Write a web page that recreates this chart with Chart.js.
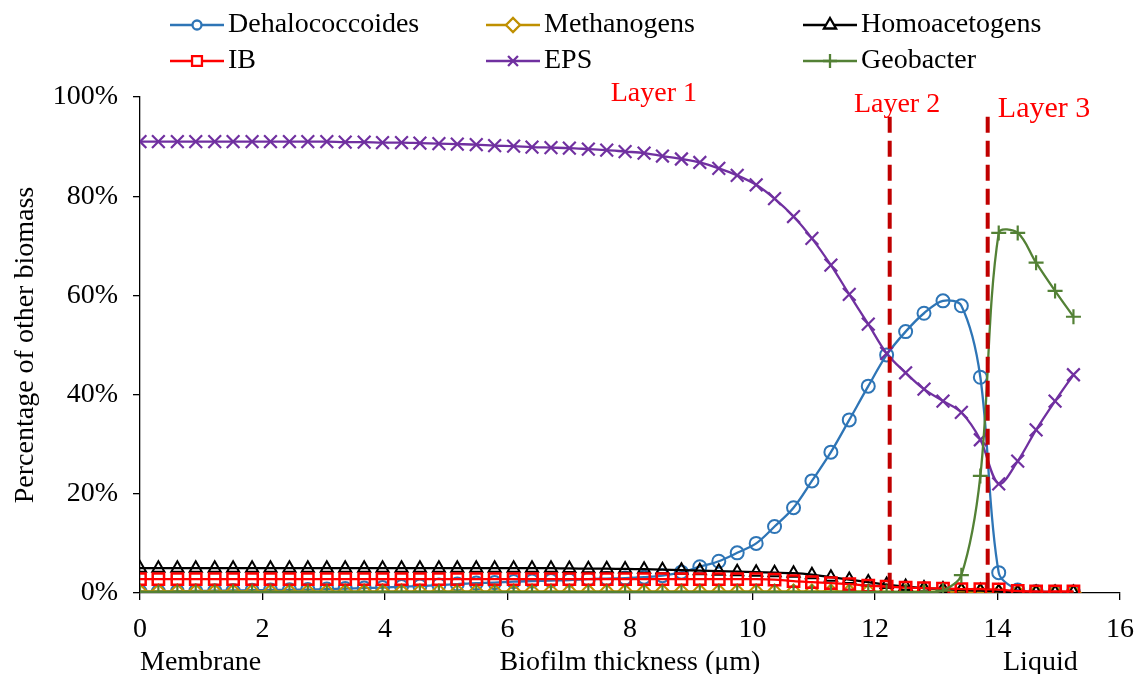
<!DOCTYPE html>
<html><head><meta charset="utf-8">
<script src="https://cdn.jsdelivr.net/npm/chart.js@4/dist/chart.umd.min.js"></script>
<style>html,body{margin:0;padding:0;background:#fff;} canvas{display:block;}</style>
</head><body>
<canvas id="c" width="1136" height="674"></canvas>
<script>
// ---------- data ----------
const thickness = [0,0.30,0.61,0.91,1.22,1.52,1.83,2.13,2.44,2.74,3.05,3.35,3.66,3.96,4.27,4.57,4.88,5.18,5.49,5.79,
  6.10,6.40,6.71,7.01,7.32,7.62,7.92,8.23,8.53,8.84,9.14,9.45,9.75,10.06,10.36,10.67,10.97,11.28,11.58,11.89,
  12.19,12.50,12.80,13.11,13.41,13.72,14.02,14.33,14.63,14.94,15.24];
const dehalococcoides = [0.3,0.3,0.35,0.4,0.45,0.5,0.55,0.6,0.65,0.7,0.8,0.9,1.0,1.1,1.3,1.4,1.6,1.8,2.0,2.1,
  2.3,2.4,2.5,2.6,2.8,2.9,3.0,3.2,3.5,4.2,5.3,6.4,8.1,10.0,13.4,17.2,22.6,28.4,34.9,41.7,
  48.0,52.7,56.4,58.9,57.9,43.5,4.1,0.6,0.3,0.2,0.2];
const methanogens = [0.3,0.3,0.3,0.3,0.3,0.3,0.3,0.3,0.3,0.3,0.3,0.3,0.3,0.3,0.3,0.3,0.3,0.3,0.3,0.3,
  0.3,0.3,0.3,0.3,0.3,0.3,0.3,0.3,0.3,0.3,0.3,0.3,0.3,0.3,0.3,0.3,0.3,0.3,0.3,0.3,
  0.25,0.25,0.25,0.25,0.25,0.1,0.1,0.1,0.1,0.1,0.1];
const homoacetogens = [5.0,5.0,5.0,5.0,5.0,5.0,5.0,5.0,5.0,5.0,5.0,5.0,5.0,5.0,5.0,5.0,5.0,5.0,5.0,5.0,
  5.0,5.0,5.0,4.95,4.9,4.9,4.85,4.8,4.7,4.6,4.5,4.4,4.3,4.2,4.1,4.0,3.7,3.2,2.7,2.2,
  1.7,1.3,1.0,0.8,0.6,0.5,0.3,0.1,0.1,0.1,0.1];
const ib = [2.8,2.8,2.8,2.8,2.8,2.8,2.8,2.8,2.8,2.8,2.8,2.8,2.8,2.8,2.8,2.8,2.8,2.8,2.8,2.8,
  2.8,2.8,2.8,2.8,2.8,2.8,2.8,2.8,2.8,2.8,2.8,2.8,2.8,2.8,2.7,2.4,2.2,2.0,1.8,1.5,
  1.3,1.1,1.0,0.9,0.8,0.8,0.7,0.4,0.3,0.3,0.3];
const eps = [91.0,91.0,91.0,91.0,91.0,91.0,91.0,91.0,91.0,91.0,91.0,90.9,90.9,90.8,90.8,90.7,90.6,90.5,90.4,90.2,
  90.1,89.9,89.8,89.7,89.5,89.3,89.0,88.7,88.1,87.5,86.8,85.6,84.2,82.3,79.5,75.9,71.5,66.1,60.2,54.2,
  48.3,44.4,41.1,38.7,36.4,30.9,22.0,26.6,32.9,38.7,44.0];
const geobacter = [0.2,0.2,0.2,0.2,0.2,0.2,0.2,0.2,0.2,0.2,0.2,0.2,0.2,0.2,0.2,0.2,0.2,0.2,0.2,0.2,
  0.2,0.2,0.2,0.2,0.2,0.2,0.2,0.2,0.2,0.2,0.2,0.2,0.2,0.2,0.2,0.2,0.2,0.2,0.2,0.2,
  0.2,0.2,0.2,0.5,3.6,23.6,72.6,72.6,66.6,60.9,55.7];
const seriesNames = ['Dehalococcoides','Methanogens','Homoacetogens','IB','EPS','Geobacter'];
const layerBoundaries = [12.24, 13.84];
const layerLineRange = [96, 0];
const layerNames = ['Layer 1','Layer 2','Layer 3'];
const layerLabelAt = [[8.39,100.7],[12.36,98.5],[14.76,97.6]];
const xTicks = [0,2,4,6,8,10,12,14,16];
const yTicks = [0,20,40,60,80,100];
const xTitle = 'Biofilm thickness (μm)';
const yTitle = 'Percentage of other biomass';
const xEndLabels = ['Membrane','Liquid'];

// ---------- styling ----------
const FONT = "'Liberation Serif', 'Times New Roman', serif";
Chart.defaults.font.family = FONT;
Chart.defaults.font.size = 28;
Chart.defaults.color = '#000';

const styles = [
  {color:'#2E75B6', style:'circle',   r:6.5, bw:2},
  {color:'#BF9000', style:'rectRot',  r:7,   bw:2},
  {color:'#000000', style:'triangle', r:7,   bw:2},
  {color:'#FF0000', style:'rect',     r:8,   bw:2.5},
  {color:'#7030A0', style:'crossRot', r:9,   bw:2.2},
  {color:'#538135', style:'cross',    r:7.5, bw:2.2}
];
const seriesData = [dehalococcoides, methanogens, homoacetogens, ib, eps, geobacter];

const datasets = seriesData.map((vals, k) => ({
  label: seriesNames[k],
  data: thickness.map((x, i) => ({x, y: vals[i]})),
  borderColor: styles[k].color,
  backgroundColor: 'rgba(0,0,0,0)',
  pointBorderColor: styles[k].color,
  pointBackgroundColor: 'rgba(0,0,0,0)',
  pointStyle: styles[k].style,
  pointRadius: styles[k].r,
  pointBorderWidth: styles[k].bw,
  borderWidth: 2.3,
  tension: 0.33,
  order: 10 - k
}));
layerBoundaries.forEach(b => datasets.push({
  label: '_layer',
  data: [{x:b, y:layerLineRange[0]}, {x:b, y:layerLineRange[1]}],
  borderColor: '#C00000',
  borderWidth: 4,
  borderDash: [16, 8],
  pointRadius: 0,
  tension: 0,
  order: 0
}));

const overlay = {
  id: 'overlay',
  afterDraw(chart) {
    const {ctx, scales:{x, y}} = chart;
    ctx.save();
    ctx.textBaseline = 'middle';
    // layer labels
    ctx.fillStyle = '#FF0000';
    ctx.textAlign = 'center';
    layerNames.forEach((t, i) => {
      ctx.font = (i === 2 ? '30px ' : '28px ') + FONT;
      ctx.fillText(t, x.getPixelForValue(layerLabelAt[i][0]), y.getPixelForValue(layerLabelAt[i][1]));
    });
    ctx.font = '28px ' + FONT;
    // bottom labels
    ctx.fillStyle = '#000';
    ctx.textAlign = 'left';
    ctx.fillText(xEndLabels[0], x.getPixelForValue(0), 663);
    ctx.fillText(xEndLabels[1], 1003, 663);
    ctx.textAlign = 'center';
    ctx.fillText(xTitle, 630, 663);
    // legend
    const colX = [170, 486, 803];
    const rowY = [25, 61];
    seriesNames.forEach((name, k) => {
      const cx = colX[k % 3], cy = rowY[Math.floor(k / 3)];
      const st = styles[k];
      ctx.strokeStyle = st.color;
      ctx.lineWidth = 2.3;
      ctx.setLineDash([]);
      ctx.beginPath(); ctx.moveTo(cx, cy); ctx.lineTo(cx + 54, cy); ctx.stroke();
      ctx.fillStyle = '#fff';
      Chart.helpers.drawPoint(ctx, {pointStyle: st.style, radius: st.style === 'circle' ? 4.5 : Math.min(st.r, 7), rotation: 0, borderWidth: 2}, cx + 27, cy);
      ctx.fillStyle = '#000';
      ctx.textAlign = 'left';
      ctx.fillText(name, cx + 58, cy);
    });
    ctx.restore();
  }
};

new Chart(document.getElementById('c'), {
  type: 'line',
  data: {datasets},
  options: {
    responsive: false,
    animation: false,
    devicePixelRatio: 1,
    layout: {autoPadding: false, padding: {top: 97, right: 16, left: 0, bottom: 0}},
    plugins: {legend: {display: false}, tooltip: {enabled: false}},
    scales: {
      x: {
        type: 'linear', min: 0, max: 16,
        afterFit(s) { s.height = 81; s.paddingLeft = 0; s.paddingRight = 0; },
        afterBuildTicks(s) { s.ticks = xTicks.map(v => ({value: v})); },
        ticks: {font: {size: 28}, color: '#000', maxRotation: 0, autoSkip: false, padding: 13},
        grid: {drawOnChartArea: false, drawTicks: true, tickLength: 7, color: '#000', lineWidth: 1.3},
        border: {color: '#000', width: 1.3}
      },
      y: {
        type: 'linear', min: 0, max: 100,
        afterFit(s) { s.width = 140; s.paddingTop = 0; s.paddingBottom = 0; },
        afterBuildTicks(s) { s.ticks = yTicks.map(v => ({value: v})); },
        ticks: {font: {size: 28}, color: '#000', padding: 15, callback: v => v + '%'},
        grid: {drawOnChartArea: false, drawTicks: true, tickLength: 7, color: '#000', lineWidth: 1.3},
        border: {color: '#000', width: 1.3},
        title: {display: true, text: yTitle, font: {size: 28}, color: '#000', padding: {top: 9, bottom: 0}}
      }
    }
  },
  plugins: [overlay]
});
</script>
</body></html>
